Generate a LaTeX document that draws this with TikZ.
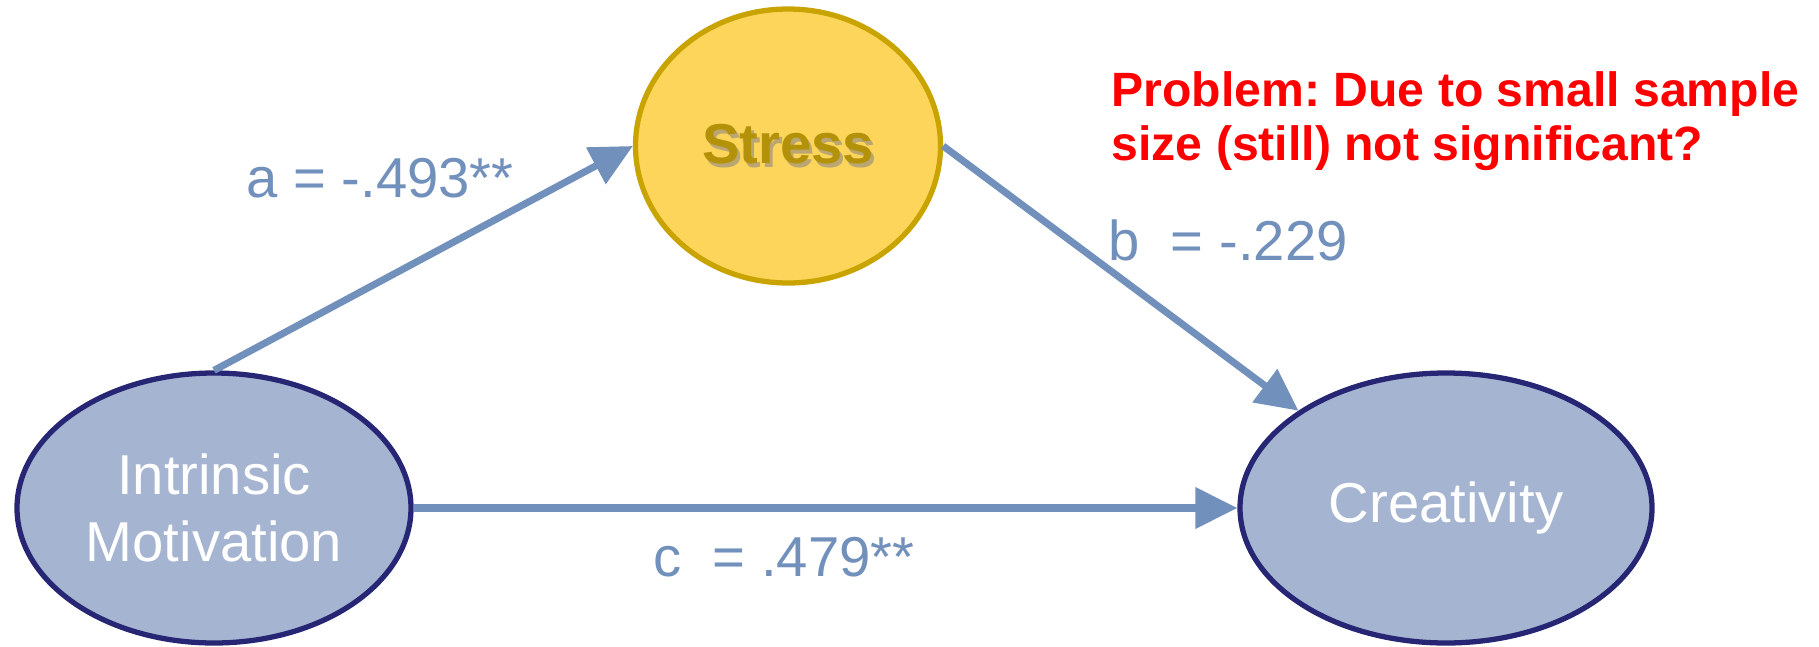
\documentclass[tikz,border=0pt]{standalone}
\usepackage{fontspec}
\setmainfont{Liberation Sans}
\usetikzlibrary{arrows.meta,positioning,shapes.geometric}
\definecolor{pathblue}{HTML}{7190BC}
\definecolor{varfill}{HTML}{A4B4D1}
\definecolor{varline}{HTML}{262674}
\definecolor{stressfill}{HTML}{FDD55A}
\definecolor{stressline}{HTML}{C9A300}
\definecolor{stresstext}{HTML}{B3920A}
\definecolor{shadowcol}{HTML}{A89050}
\frenchspacing

\begin{document}
\begin{tikzpicture}
\useasboundingbox (0,0) rectangle (18.19,6.46);
\tikzset{
  var/.style={draw=varline, fill=varfill, ellipse, line width=1.5pt, text=white, align=center, font=\fontsize{16}{19}\selectfont, inner sep=0pt},
  path/.style={draw=pathblue, line width=2pt, -{Triangle[length=0.42cm, width=0.4cm]}},
  coef/.style={text=pathblue, font=\fontsize{16}{19}\selectfont, inner sep=0pt}
}
\node[var, minimum width=3.94cm, minimum height=2.70cm] (intr) at (2.14,1.38) {Intrinsic\\Motivation};
\node[var, minimum width=4.12cm, minimum height=2.70cm] (creat) at (14.46,1.38) {Creativity};
\node[var, draw=stressline, fill=stressfill, text=stresstext, minimum width=3.05cm, minimum height=2.74cm, font=\fontsize{16}{19}\selectfont\bfseries] (stress) at (7.88,5.00)
  {\makebox[0pt][l]{\hspace{0.03cm}\raisebox{-0.045cm}{\textcolor{shadowcol!80}{Stress}}}Stress};

\draw[path] (intr.north) -- (stress.west);
\draw[path] (stress.east) -- (creat.north west);
\draw[path] (intr.east) -- (creat.west);

\node[coef] (acoef) at (3.80,4.68) {a = -.493**};
\node[coef] (bcoef) at (12.28,4.06) {b \ = -.229};
\node[coef] (ccoef) at (7.84,0.89) {c \ = .479**};

\node[text=red, font=\fontsize{13.7}{15.2}\selectfont\bfseries, align=left, anchor=west, inner sep=0pt] (problem) at (11.11,5.25)
  {Problem: Due to small sample\\size (still) not significant?};
\end{tikzpicture}
\end{document}
